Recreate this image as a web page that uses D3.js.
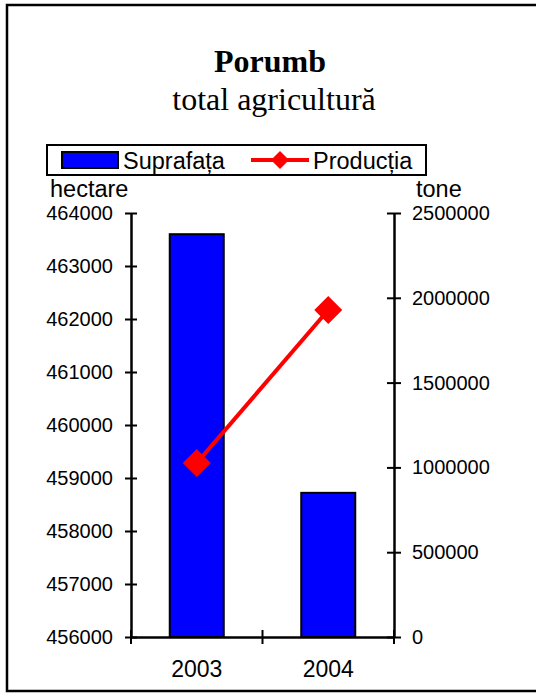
<!DOCTYPE html>
<html><head><meta charset="utf-8">
<script src="https://cdn.jsdelivr.net/npm/d3@7"></script>
<style>body{margin:0;background:#fff}svg{display:block}</style>
</head><body>
<script>
const categories = ["2003", "2004"];
const suprafata = [463600, 458720];
const productia = [1026000, 1928000];
const leftTicks = [456000, 457000, 458000, 459000, 460000, 461000, 462000, 463000, 464000];
const rightTicks = [0, 500000, 1000000, 1500000, 2000000, 2500000];

const W = 536, H = 694;
const svg = d3.select("body").append("svg").attr("width", W).attr("height", H);
svg.append("rect").attr("width", W).attr("height", H).attr("fill", "#fff");
svg.append("rect").attr("x", 7).attr("y", 5).attr("width", 620).attr("height", 686)
  .attr("fill", "none").attr("stroke", "#000").attr("stroke-width", 2.5);

const x0 = 131, x1 = 394, yTop = 213, yBot = 637;
const x = d3.scaleBand().domain(categories).range([x0, x1]).paddingInner(0).paddingOuter(0);
const yL = d3.scaleLinear().domain([456000, 464000]).range([yBot, yTop]);
const yR = d3.scaleLinear().domain([0, 2500000]).range([yBot, yTop]);
const barW = 54;

// title
svg.append("text").attr("x", 270).attr("y", 72).attr("text-anchor", "middle")
  .attr("font-family", "Liberation Serif, Times New Roman, serif").attr("font-weight", "bold")
  .attr("font-size", 32).text("Porumb");
svg.append("text").attr("x", 274).attr("y", 110).attr("text-anchor", "middle")
  .attr("font-family", "Liberation Serif, Times New Roman, serif")
  .attr("font-size", 32).text("total agricultură");

// bars
svg.append("g").selectAll("rect").data(categories).join("rect")
  .attr("x", d => x(d) + x.bandwidth() / 2 - barW / 2)
  .attr("width", barW)
  .attr("y", (d, i) => yL(suprafata[i]))
  .attr("height", (d, i) => yBot - yL(suprafata[i]))
  .attr("fill", "#0000ff").attr("stroke", "#000").attr("stroke-width", 2);

const font = "Liberation Sans, Arial, sans-serif";
// left axis
const gL = svg.append("g").attr("transform", `translate(${x0},0)`)
  .call(d3.axisLeft(yL).tickValues(leftTicks).tickFormat(d3.format("d")).tickSizeInner(6).tickSizeOuter(0).tickPadding(12));
gL.selectAll(".tick line").attr("x2", -6).attr("x1", 6);
// right axis
const gR = svg.append("g").attr("transform", `translate(${x1},0)`)
  .call(d3.axisRight(yR).tickValues(rightTicks).tickFormat(d3.format("d")).tickSizeInner(7).tickSizeOuter(0).tickPadding(11));
gR.selectAll(".tick line").attr("x1", -7).attr("x2", 7);
// bottom axis
const gB = svg.append("g").attr("transform", `translate(0,${yBot})`)
  .call(d3.axisBottom(x).tickSize(0).tickPadding(26));
svg.append("g").selectAll("line").data([x0, x0 + x.bandwidth(), x1]).join("line")
  .attr("x1", d => d).attr("x2", d => d).attr("y1", yBot - 7).attr("y2", yBot + 7)
  .attr("stroke", "#000").attr("stroke-width", 2);
[gL, gR, gB].forEach(g => {
  g.selectAll("path.domain").attr("stroke", "#000").attr("stroke-width", 2.5);
  g.selectAll(".tick line").attr("stroke", "#000").attr("stroke-width", 2);
  g.selectAll("text").attr("font-family", font).attr("font-size", 20).attr("fill", "#000");
});
gB.selectAll("text").attr("font-size", 23).attr("dy", "0.6em");

// line
const line = d3.line().x((d, i) => x(categories[i]) + x.bandwidth() / 2).y(d => yR(d));
svg.append("path").datum(productia).attr("d", line).attr("fill", "none")
  .attr("stroke", "#ff0000").attr("stroke-width", 4);
const diamond = (cx, cy, r) => `M${cx},${cy - r}L${cx + r},${cy}L${cx},${cy + r}L${cx - r},${cy}Z`;
svg.append("g").selectAll("path").data(productia).join("path")
  .attr("d", (d, i) => diamond(x(categories[i]) + x.bandwidth() / 2, yR(d), 14))
  .attr("fill", "#ff0000");

// axis titles
svg.append("text").attr("x", 50).attr("y", 197).attr("font-family", font).attr("font-size", 23.5).text("hectare");
svg.append("text").attr("x", 416).attr("y", 197).attr("font-family", font).attr("font-size", 23.5).text("tone");

// legend
const lg = svg.append("g");
lg.append("rect").attr("x", 47).attr("y", 145).attr("width", 379).attr("height", 30)
  .attr("fill", "#fff").attr("stroke", "#000").attr("stroke-width", 2);
lg.append("rect").attr("x", 62).attr("y", 152).attr("width", 56).attr("height", 16)
  .attr("fill", "#0000ff").attr("stroke", "#000").attr("stroke-width", 2);
lg.append("text").attr("x", 123).attr("y", 169).attr("font-family", font).attr("font-size", 23.5).text("Suprafața");
lg.append("line").attr("x1", 251).attr("x2", 309).attr("y1", 160).attr("y2", 160)
  .attr("stroke", "#ff0000").attr("stroke-width", 4);
lg.append("path").attr("d", diamond(280, 160, 9)).attr("fill", "#ff0000");
lg.append("text").attr("x", 313).attr("y", 169).attr("font-family", font).attr("font-size", 23.5).text("Producția");
</script>
</body></html>
